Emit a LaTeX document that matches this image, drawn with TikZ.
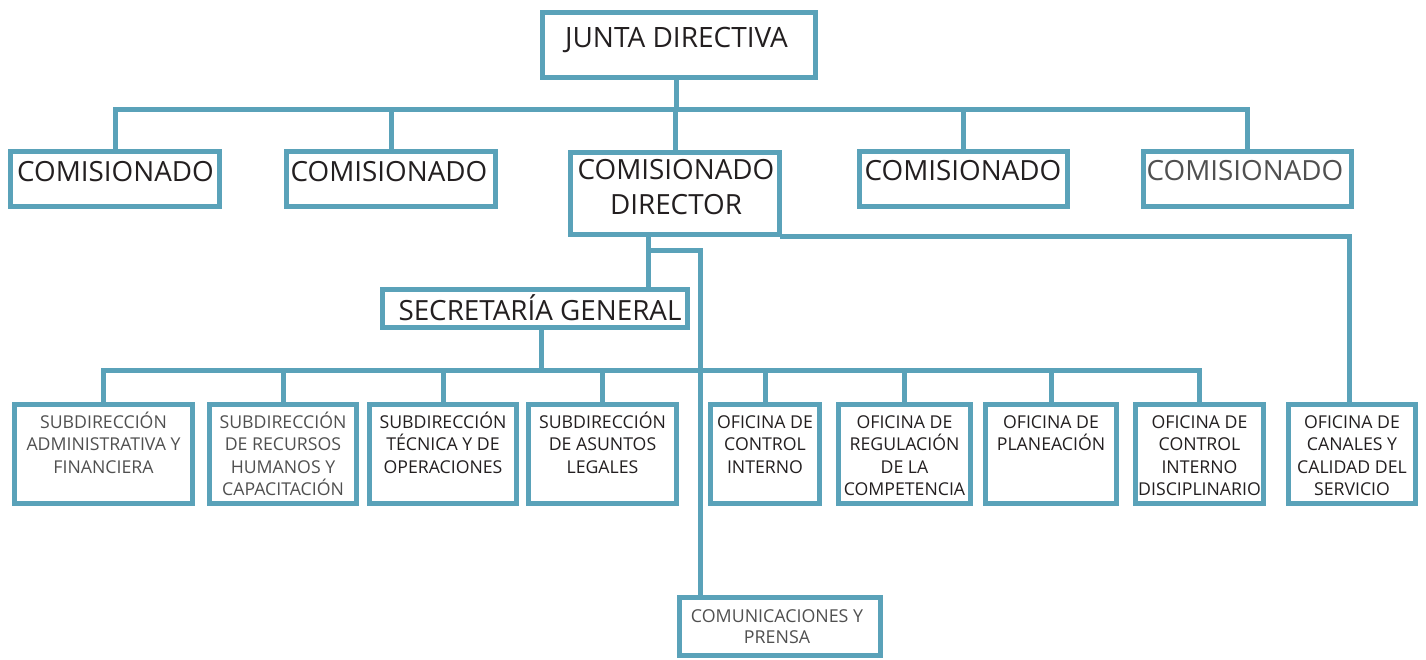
\documentclass[tikz,border=0pt]{standalone}
\usepackage{fontspec}
\setmainfont{Open Sans}
\usetikzlibrary{calc}
\definecolor{orgline}{RGB}{90,162,185}
\definecolor{ink}{RGB}{35,31,32}
\definecolor{inkgray}{RGB}{80,80,80}
\begin{document}
\begin{tikzpicture}[x=1pt,y=-1pt,
  box/.style={draw=orgline, line width=5pt, fill=white, inner sep=0pt, rectangle, line join=miter},
  conn/.style={draw=orgline, line width=5pt, line join=miter, line cap=rect},
  tbig/.style={font=\fontsize{28}{32}\selectfont, text=ink, anchor=base, inner sep=0pt},
  tmid/.style={font=\fontsize{27.8}{35}\selectfont, text=ink, anchor=base, inner sep=0pt, align=center},
  tsmall/.style={font=\fontsize{17.7}{22.5}\selectfont, text=ink, anchor=base, inner sep=0pt, align=center},
]
\useasboundingbox (0,0) rectangle (1426,660);

\coordinate (h0) at (676,109.5);
\coordinate (h1) at (541,370.5);

% boxes
\node[box, minimum width=273, minimum height=65] (jd) at (679,45) {};
\node[box, minimum width=209, minimum height=55] (c1) at (115,179) {};
\node[box, minimum width=209, minimum height=55] (c2) at (391,179) {};
\node[box, minimum width=209, minimum height=82] (cd) at (675,193.5) {};
\node[box, minimum width=208, minimum height=55] (c4) at (963,179) {};
\node[box, minimum width=208, minimum height=55] (c5) at (1247,179) {};
\node[box, minimum width=305, minimum height=38] (sg) at (535,308.5) {};
\node[box, minimum width=178, minimum height=99] (b1) at (103.5,454) {};
\node[box, minimum width=147, minimum height=99] (b2) at (283,454) {};
\node[box, minimum width=147, minimum height=99] (b3) at (443,454) {};
\node[box, minimum width=148, minimum height=99] (b4) at (602.5,454) {};
\node[box, minimum width=109, minimum height=99] (b5) at (765,454) {};
\node[box, minimum width=132, minimum height=99] (b6) at (904.5,454) {};
\node[box, minimum width=131, minimum height=99] (b7) at (1051,454) {};
\node[box, minimum width=128, minimum height=99] (b8) at (1199.5,454) {};
\node[box, minimum width=127, minimum height=99] (b9) at (1352,454) {};
\node[box, minimum width=201, minimum height=58] (com) at (780,626.5) {};

% top tree
\draw[conn] (jd.south -| h0) -- (h0);
\draw[conn] (c1.north) -- (c1.north |- h0) -| (c5.north);
\draw[conn] (c2.north) -- (c2.north |- h0);
\draw[conn] (cd.north) -- (cd.north |- h0);
\draw[conn] (c4.north) -- (c4.north |- h0);

% director branches
\draw[conn] (cd.south -| 648,0) -- (sg.north -| 648,0);
\draw[conn] (648,250.5) -- (700,250.5) -- (com.north -| 700,0);
\draw[conn] (cd.south east) -| (b9.north -| 1349,0);

% secretaria tree
\draw[conn] (sg.south -| h1) -- (h1);
\draw[conn] (b1.north) -- (b1.north |- h1) -| (b8.north);
\foreach \b in {b2,b3,b4,b5,b6,b7} {
  \draw[conn] (\b.north) -- (\b.north |- h1);
}

% texts (anchor = baseline of last line)
\node[tbig] (t-jd) at (676.5,48) {JUNTA DIRECTIVA};
\node[tmid] (t-c1) at (115.5,182) {COMISIONADO};
\node[tmid] (t-c2) at (389,182) {COMISIONADO};
\node[tmid] (t-cd) at (676,215) {COMISIONADO\\DIRECTOR};
\node[tmid] (t-c4) at (963,181) {COMISIONADO};
\node[tmid, text=inkgray] (t-c5) at (1245,181) {COMISIONADO};
\node[tmid] (t-sg) at (540,320) {SECRETARÍA GENERAL};

\node[tsmall, text=inkgray] (t-b1) at (103.5,473) {SUBDIRECCIÓN\\ADMINISTRATIVA Y\\FINANCIERA};
\node[tsmall, text=inkgray] (t-b2) at (283,495.5) {SUBDIRECCIÓN\\DE RECURSOS\\HUMANOS Y\\CAPACITACIÓN};
\node[tsmall] (t-b3) at (443,473) {SUBDIRECCIÓN\\TÉCNICA Y DE\\OPERACIONES};
\node[tsmall] (t-b4) at (602.5,473) {SUBDIRECCIÓN\\DE ASUNTOS\\LEGALES};
\node[tsmall] (t-b5) at (765,473) {OFICINA DE\\CONTROL\\INTERNO};
\node[tsmall] (t-b6) at (904.5,495.5) {OFICINA DE\\REGULACIÓN\\DE LA\\COMPETENCIA};
\node[tsmall] (t-b7) at (1051,450.5) {OFICINA DE\\PLANEACIÓN};
\node[tsmall] (t-b8) at (1199.5,495.5) {OFICINA DE\\CONTROL\\INTERNO\\DISCIPLINARIO};
\node[tsmall] (t-b9) at (1352,495.5) {OFICINA DE\\CANALES Y\\CALIDAD DEL\\SERVICIO};
\node[tsmall, text=inkgray, font=\fontsize{17.8}{21}\selectfont] (t-com) at (777,643) {COMUNICACIONES Y\\PRENSA};
\end{tikzpicture}
\end{document}
